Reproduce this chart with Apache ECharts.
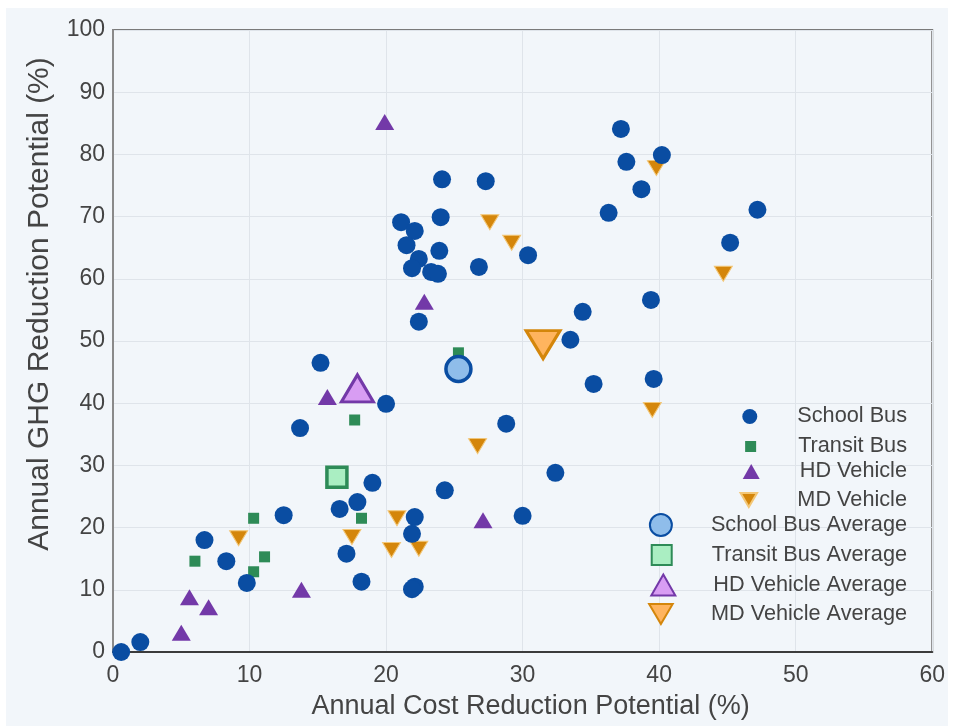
<!DOCTYPE html>
<html>
<head>
<meta charset="utf-8">
<script src="https://cdn.jsdelivr.net/npm/echarts@6/dist/echarts.min.js"></script>
<style>
  html, body { margin: 0; padding: 0; background: #ffffff; width: 954px; height: 726px; overflow: hidden; }
  #chart { position: absolute; left: 6px; top: 8px; width: 942px; height: 718px; }
</style>
</head>
<body>
<div id="chart"></div>
<script>
// [annual cost reduction %, annual GHG reduction %]
const schoolBus = [
  [0.6, 0.0], [2.0, 1.6], [6.7, 18.0], [8.3, 14.6], [9.8, 11.1], [12.5, 22.0],
  [13.7, 36.0], [15.2, 46.5], [20.0, 39.9], [16.6, 23.0], [17.9, 24.1], [19.0, 27.2],
  [17.1, 15.8], [18.2, 11.3], [22.1, 21.7], [21.9, 19.0], [22.1, 10.5], [21.9, 10.1],
  [24.3, 26.0], [28.8, 36.7], [30.0, 21.9], [32.4, 28.8], [33.5, 50.2], [34.4, 54.7],
  [35.2, 43.1], [36.3, 70.6], [37.2, 84.1], [37.6, 78.8], [38.7, 74.4], [40.2, 79.9],
  [39.4, 56.6], [39.6, 43.9], [45.2, 65.8], [47.2, 71.1], [24.1, 76.0], [27.3, 75.7],
  [24.0, 69.9], [21.1, 69.1], [22.1, 67.7], [21.5, 65.4], [23.9, 64.5], [22.4, 63.2],
  [21.9, 61.7], [23.3, 61.1], [23.8, 60.8], [26.8, 61.9], [30.4, 63.8], [22.4, 53.1]
];
const transitBus = [
  [6.0, 14.6], [10.3, 21.5], [10.3, 12.9], [11.1, 15.3], [17.7, 37.3], [18.2, 21.5], [25.3, 48.1]
];
const hdVehicle = [
  [5.0, 3.1], [5.6, 8.8], [7.0, 7.2], [13.8, 10.0], [15.7, 41.0], [19.9, 85.2], [22.8, 56.3], [27.1, 21.2]
];
const mdVehicle = [
  [9.2, 18.3], [17.5, 18.5], [20.8, 21.5], [20.4, 16.4], [22.4, 16.6], [26.7, 33.1],
  [27.6, 69.1], [29.2, 65.8], [39.5, 38.9], [44.7, 60.8], [39.8, 77.8]
];
const schoolBusAvg = [[25.3, 45.5]];
const transitBusAvg = [[16.4, 28.1]];
const hdVehicleAvg = [[17.9, 42.4]];
const mdVehicleAvg = [[31.5, 49.4]];

const xTicks = { min: 0, max: 60, interval: 10 };
const yTicks = { min: 0, max: 100, interval: 10 };

const FONT = '"Liberation Sans", Arial, sans-serif';
const TEXT = '#444444';

const BLUE = '#0a4da2', GREEN = '#2e8b57', PURPLE = '#7339a8', ORANGE = '#d4860b';
const DOWN_TRIANGLE = 'path://M0,0L20,0L10,17Z';

// legend rows: name, icon, icon width, icon height, row centre y, gap before text
const legendRows = [
  ['School Bus', 'circle', 15, 15, 405, 35],
  ['Transit Bus', 'rect', 11, 11, 433, 37],
  ['HD Vehicle', 'triangle', 17, 15, 460, 35],
  ['MD Vehicle', DOWN_TRIANGLE, 17, 14, 488, 35],
  ['School Bus Average', 'circle', 22, 22, 516, 34],
  ['Transit Bus Average', 'rect', 20, 20, 546, 35],
  ['HD Vehicle Average', 'triangle', 24, 21, 576, 33],
  ['MD Vehicle Average', DOWN_TRIANGLE, 24, 20, 605, 33]
];

const legends = legendRows.map(([name, icon, w, h, cy, gap]) => ({
  data: [{ name: name, icon: icon }],
  right: 41,
  top: cy - h / 2,
  padding: 0,
  itemWidth: w,
  itemHeight: h,
  itemGap: 0,
  textStyle: { fontFamily: FONT, fontSize: 21.7, color: TEXT, padding: [0, 0, 0, gap] },
  selectedMode: false
}));

const chart = echarts.init(document.getElementById('chart'), null, { renderer: 'canvas' });
chart.setOption({
  backgroundColor: '#f2f6fa',
  animation: false,
  grid: {
    left: 107, right: 6, top: 22, bottom: 74,
    show: true, borderColor: '#7a7a7a', borderWidth: 2, backgroundColor: 'transparent'
  },
  legend: legends,
  xAxis: {
    type: 'value', min: xTicks.min, max: xTicks.max, interval: xTicks.interval,
    name: 'Annual Cost Reduction Potential (%)', nameLocation: 'middle', nameGap: 41,
    nameTextStyle: { fontFamily: FONT, fontSize: 27, color: TEXT, padding: [0, 0, 0, 16] },
    axisLine: { show: true, lineStyle: { color: '#3c3c3c', width: 2 } },
    axisTick: { show: false },
    axisLabel: { fontFamily: FONT, fontSize: 23, color: TEXT, margin: 12 },
    splitLine: { show: true, lineStyle: { color: '#dfe4ea', width: 1 } }
  },
  yAxis: {
    type: 'value', min: yTicks.min, max: yTicks.max, interval: yTicks.interval,
    name: 'Annual GHG Reduction Potential (%)', nameLocation: 'middle', nameGap: 58,
    nameTextStyle: { fontFamily: FONT, fontSize: 30, color: TEXT, padding: [0, 0, 0, 74] },
    axisLine: { show: true, lineStyle: { color: '#8a8a8a', width: 2 } },
    axisTick: { show: false },
    axisLabel: { fontFamily: FONT, fontSize: 23, color: TEXT, margin: 8 },
    splitLine: { show: true, lineStyle: { color: '#dfe4ea', width: 1 } }
  },
  series: [
    {
      name: 'MD Vehicle', type: 'scatter', data: mdVehicle, symbol: 'triangle',
      symbolRotate: 180, symbolSize: [18, 15],
      itemStyle: { color: ORANGE, borderColor: '#f3c777', borderWidth: 1, opacity: 1 }
    },
    {
      name: 'HD Vehicle', type: 'scatter', data: hdVehicle, symbol: 'triangle',
      symbolSize: [19, 16],
      itemStyle: { color: PURPLE, opacity: 1 }
    },
    {
      name: 'Transit Bus', type: 'scatter', data: transitBus, symbol: 'rect',
      symbolSize: 11,
      itemStyle: { color: GREEN, opacity: 1 }
    },
    {
      name: 'School Bus', type: 'scatter', data: schoolBus, symbol: 'circle',
      symbolSize: 18,
      itemStyle: { color: BLUE, opacity: 1 }
    },
    {
      name: 'School Bus Average', type: 'scatter', data: schoolBusAvg, symbol: 'circle',
      symbolSize: 25,
      itemStyle: { color: '#8fbdea', borderColor: BLUE, borderWidth: 3.5, opacity: 1 }
    },
    {
      name: 'Transit Bus Average', type: 'scatter', data: transitBusAvg, symbol: 'rect',
      symbolSize: 20,
      itemStyle: { color: '#aaeec2', borderColor: GREEN, borderWidth: 3.5, opacity: 1 }
    },
    {
      name: 'HD Vehicle Average', type: 'scatter', data: hdVehicleAvg, symbol: 'triangle',
      symbolSize: [32, 27],
      itemStyle: { color: '#d89df3', borderColor: PURPLE, borderWidth: 3, opacity: 1 }
    },
    {
      name: 'MD Vehicle Average', type: 'scatter', data: mdVehicleAvg, symbol: 'triangle',
      symbolRotate: 180, symbolSize: [34, 28],
      itemStyle: { color: '#ffb45e', borderColor: ORANGE, borderWidth: 3, opacity: 1 }
    }
  ]
});
</script>
</body>
</html>
